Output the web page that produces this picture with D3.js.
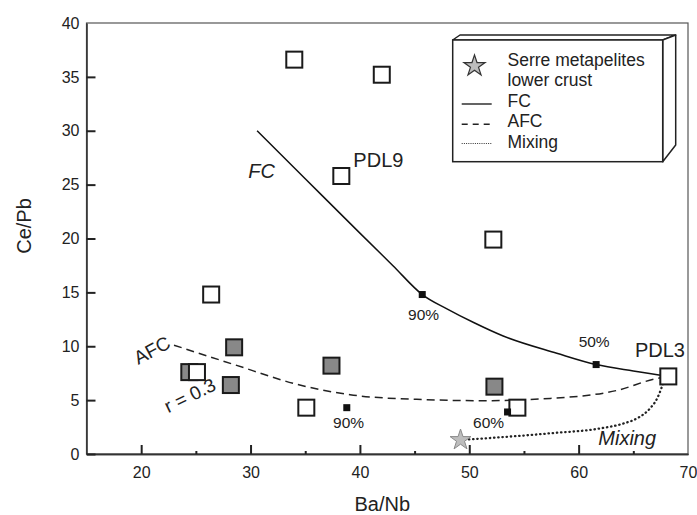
<!DOCTYPE html>
<html>
<head>
<meta charset="utf-8">
<title>Ce/Pb vs Ba/Nb</title>
<script src="https://cdn.jsdelivr.net/npm/d3@7"></script>
<style>
    body { margin: 0; background: white; }
    text { font-family: "Liberation Sans", Arial, sans-serif; fill: #222; }
</style>
</head>
<body>
<div id="chart"></div>
<script>
// samples, [Ba/Nb, Ce/Pb]
var openSquares = [[34.0,36.6],[42.0,35.2],[38.3,25.8],[52.2,19.9],[26.4,14.8],[25.1,7.6],[35.1,4.3],[54.4,4.3],[68.2,7.2]];
var graySquares = [[24.4,7.6],[28.5,9.9],[28.2,6.4],[37.4,8.2],[52.3,6.25]];
var modelPoints = [[45.7,14.8],[61.6,8.3],[38.8,4.3],[53.5,3.9]];
var crustStar = [[49.2,1.3]];

// model curves
var fcCurve = [[30.6,30.0],[35,25.55],[40,20.5],[43,17.5],[45.7,14.8],[48,13.45],[50.4,12.2],[53.1,10.95],[58,9.35],[61.6,8.3],[65,7.7],[68.2,7.2]];
var afcCurve = [[23.0,10.1],[28.5,8.3],[34.5,6.4],[39.1,5.5],[45.2,5.07],[51.3,4.95],[57.4,5.16],[63.5,5.9],[67.1,7.0],[68.2,7.2]];
var mixCurve = [[49.2,1.3],[50.1,1.36],[57.4,1.92],[62,2.38],[64,2.8],[65.5,3.4],[66.5,4.2],[67.2,5.2],[67.6,6.2],[67.9,7.1]];

var xTicks = [20,30,40,50,60,70];
var xMinorTicks = [25,35,45,55,65];
var yTicks = [0,5,10,15,20,25,30,35,40];

// annotations anchored in data units
var plainLabels = [
    {t:"PDL9", x:39.4, y:26.6},
    {t:"PDL3", x:65.15, y:9.0}
];
var italicLabels = [
    {t:"FC", x:29.8, y:25.6},
    {t:"Mixing", x:61.8, y:0.84}
];
var pctLabels = [
    {t:"90%", x:44.4, y:12.44},
    {t:"50%", x:60.0, y:9.93},
    {t:"90%", x:37.55, y:2.41},
    {t:"60%", x:50.35, y:2.41}
];
var slantLabels = [
    {t:"AFC", x:19.74, y:8.26, a:-28},
    {t:"r = 0.3", x:22.48, y:3.78, a:-26}
];

var legendItems = ["Serre metapelites", "lower crust", "FC", "AFC", "Mixing"];

var width = 697, height = 515;
var margin = {top: 23, right: 9, bottom: 61, left: 86.5};

var x = d3.scaleLinear().domain([15, 70]).range([margin.left, width - margin.right]);
var y = d3.scaleLinear().domain([0, 40]).range([height - margin.bottom, margin.top]);

var svg = d3.select("#chart").append("svg")
    .attr("width", width)
    .attr("height", height);

// frame
svg.append("rect")
    .attr("x", x(15)).attr("y", y(40))
    .attr("width", x(70) - x(15)).attr("height", y(0) - y(40))
    .attr("fill", "none").attr("stroke", "#555").attr("stroke-width", 1.2);

var xAxis = d3.axisBottom(x).tickValues(xTicks).tickSize(-9).tickSizeOuter(0).tickPadding(13);
var xMinor = d3.axisBottom(x).tickValues(xMinorTicks).tickSize(-3).tickSizeOuter(0).tickFormat("");
var yAxis = d3.axisLeft(y).tickValues(yTicks).tickSize(-9).tickSizeOuter(0).tickPadding(7);

var gx = svg.append("g").attr("transform", "translate(0," + y(0) + ")").call(xAxis);
svg.append("g").attr("transform", "translate(0," + y(0) + ")").call(xMinor);
var gy = svg.append("g").attr("transform", "translate(" + x(15) + ",0)").call(yAxis);

svg.selectAll(".domain").attr("stroke", "#333").attr("stroke-width", 1.6);
svg.selectAll(".tick line").attr("stroke", "#222").attr("stroke-width", 2);
svg.selectAll(".tick text").style("font-size", "16px").attr("fill", "#222")
    .style("font-family", "'Liberation Sans', Arial, sans-serif");
gy.selectAll(".tick").filter(function(d){ return d === 40; }).select("line").remove();
gx.selectAll(".tick").filter(function(d){ return d === 70; }).select("line").remove();

svg.append("text")
    .attr("x", x(42.5) - 5).attr("y", 511)
    .attr("text-anchor", "middle")
    .style("font-size", "20px")
    .text("Ba/Nb");
svg.append("text")
    .attr("transform", "translate(31," + 226 + ") rotate(-90)")
    .attr("text-anchor", "middle")
    .style("font-size", "20px")
    .text("Ce/Pb");

// curves
var line = d3.line()
    .x(function(d){ return x(d[0]); })
    .y(function(d){ return y(d[1]); })
    .curve(d3.curveMonotoneX);

svg.append("path").datum(fcCurve).attr("d", line)
    .attr("fill", "none").attr("stroke", "#111").attr("stroke-width", 1.5);
svg.append("path").datum(afcCurve).attr("d", line)
    .attr("fill", "none").attr("stroke", "#222").attr("stroke-width", 1.5)
    .attr("stroke-dasharray", "8,5");
svg.append("path").datum(mixCurve).attr("d", line)
    .attr("fill", "none").attr("stroke", "#222").attr("stroke-width", 2.3)
    .attr("stroke-linecap", "round")
    .attr("stroke-dasharray", "0.4,3.8");

// samples
var sq = 16;
svg.selectAll(".gray").data(graySquares).enter().append("rect")
    .attr("class", "gray")
    .attr("x", function(d){ return x(d[0]) - sq/2; })
    .attr("y", function(d){ return y(d[1]) - sq/2; })
    .attr("width", sq).attr("height", sq)
    .attr("fill", "#888").attr("stroke", "#1a1a1a").attr("stroke-width", 2);

svg.selectAll(".open").data(openSquares).enter().append("rect")
    .attr("class", "open")
    .attr("x", function(d){ return x(d[0]) - sq/2; })
    .attr("y", function(d){ return y(d[1]) - sq/2; })
    .attr("width", sq).attr("height", sq)
    .attr("fill", "white").attr("stroke", "#1a1a1a").attr("stroke-width", 2);

var ms = 7;
svg.selectAll(".model").data(modelPoints).enter().append("rect")
    .attr("class", "model")
    .attr("x", function(d){ return x(d[0]) - ms/2; })
    .attr("y", function(d){ return y(d[1]) - ms/2; })
    .attr("width", ms).attr("height", ms)
    .attr("fill", "#111");

var star = d3.symbol().type(d3.symbolStar).size(135);
svg.selectAll(".star").data(crustStar).enter().append("path")
    .attr("class", "star")
    .attr("transform", function(d){ return "translate(" + x(d[0]) + "," + y(d[1]) + ")"; })
    .attr("d", star)
    .attr("fill", "#bdbdbd").attr("stroke", "#8a8a8a").attr("stroke-width", 1);

// annotations
svg.selectAll(".plab").data(plainLabels).enter().append("text")
    .attr("x", function(d){ return x(d.x); })
    .attr("y", function(d){ return y(d.y); })
    .style("font-size", "20px")
    .text(function(d){ return d.t; });
svg.selectAll(".ilab").data(italicLabels).enter().append("text")
    .attr("x", function(d){ return x(d.x); })
    .attr("y", function(d){ return y(d.y); })
    .style("font-size", "20px").style("font-style", "italic")
    .text(function(d){ return d.t; });
svg.selectAll(".pct").data(pctLabels).enter().append("text")
    .attr("x", function(d){ return x(d.x); })
    .attr("y", function(d){ return y(d.y); })
    .style("font-size", "15.5px")
    .text(function(d){ return d.t; });
svg.selectAll(".slab").data(slantLabels).enter().append("text")
    .attr("transform", function(d){ return "translate(" + x(d.x) + "," + y(d.y) + ") rotate(" + d.a + ")"; })
    .style("font-size", "19px")
    .text(function(d){ return d.t; });

// legend box with a 3D edge
var lg = svg.append("g").attr("class", "legend");
lg.append("polygon")
    .attr("points", "452.7,40 460,35 675.7,35 662.7,40")
    .attr("fill", "white").attr("stroke", "#222").attr("stroke-width", 1.5).attr("stroke-linejoin", "round");
lg.append("polygon")
    .attr("points", "662.7,40 675.7,35 675.7,145 662.7,161.7")
    .attr("fill", "white").attr("stroke", "#222").attr("stroke-width", 1.5).attr("stroke-linejoin", "round");
lg.append("rect")
    .attr("x", 452.7).attr("y", 40).attr("width", 210).attr("height", 121.7)
    .attr("fill", "white").attr("stroke", "#222").attr("stroke-width", 1.5);

lg.append("path")
    .attr("transform", "translate(474.5,66)")
    .attr("d", d3.symbol().type(d3.symbolStar).size(140)())
    .attr("fill", "#bdbdbd").attr("stroke", "#333").attr("stroke-width", 1.2);

var rowY = [65.5, 86, 106.8, 127.3, 147.8];
lg.selectAll(".ltext").data(legendItems).enter().append("text")
    .attr("x", 507.5)
    .attr("y", function(d, i){ return rowY[i]; })
    .style("font-size", "17.5px")
    .text(function(d){ return d; });

lg.append("line").attr("x1", 461.7).attr("x2", 491.7).attr("y1", 104).attr("y2", 104)
    .attr("stroke", "#222").attr("stroke-width", 1.4);
lg.append("line").attr("x1", 461.7).attr("x2", 491.7).attr("y1", 124.3).attr("y2", 124.3)
    .attr("stroke", "#222").attr("stroke-width", 1.4).attr("stroke-dasharray", "6,5");
lg.append("line").attr("x1", 461.7).attr("x2", 491.7).attr("y1", 143.5).attr("y2", 143.5)
    .attr("stroke", "#333").attr("stroke-width", 1).attr("stroke-dasharray", "1,1.2");
</script>
</body>
</html>
